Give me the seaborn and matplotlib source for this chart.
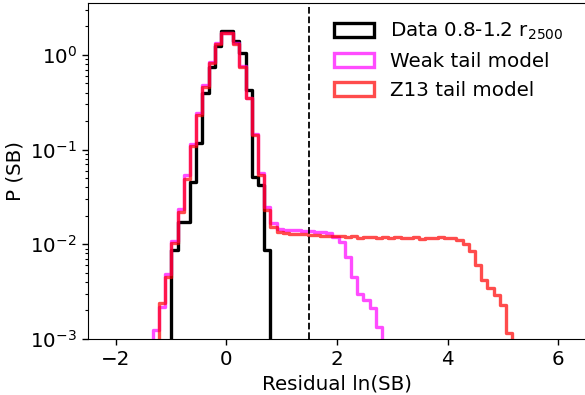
import numpy as np
import pandas as pd
import matplotlib
matplotlib.use("Agg")
import matplotlib.pyplot as plt
import seaborn as sns
from matplotlib.patches import Patch

# ---- data (binned probability values) ----
bin_left = -1.33      # left edge of bin 0
bin_width = 0.112

weak_start = 0        # first bin index of each series
weak_vals = [0.00125, 0.0022, 0.0049, 0.0109, 0.0234, 0.054, 0.115, 0.242, 0.48, 0.85,
             1.33, 1.70, 1.70, 1.33, 0.76, 0.355, 0.145, 0.057, 0.025, 0.0167,
             0.0146, 0.0143, 0.0141, 0.0140, 0.0139, 0.0137, 0.0136, 0.0135, 0.0133, 0.0120,
             0.0107, 0.0074, 0.00455, 0.0030, 0.0026, 0.0021, 0.00135]

z13_start = 1
z13_vals = [0.00238, 0.00455, 0.0104, 0.0221, 0.0486, 0.109, 0.232, 0.463, 0.817, 1.31,
            1.70, 1.70, 1.31, 0.752, 0.349, 0.143, 0.054, 0.023, 0.0153, 0.0136,
            0.0131, 0.0129, 0.0128, 0.0127, 0.0125, 0.0126, 0.0123, 0.0122, 0.0121, 0.0122,
            0.0119, 0.0121, 0.0118, 0.0120, 0.0119, 0.0117, 0.0120, 0.0118, 0.0119, 0.0116,
            0.0118, 0.0119, 0.0115, 0.0118, 0.0117, 0.0119, 0.0118, 0.0117,
            0.0111, 0.0102, 0.0084, 0.0060, 0.00422, 0.00344, 0.00292, 0.00228, 0.00115]

data_start = 3
data_vals = [0.0087, 0.0173, 0.0173, 0.046, 0.117, 0.40, 0.75, 1.25, 1.79, 1.79,
             1.42, 1.04, 0.427, 0.0518, 0.0423, 0.0087]

labels = ["Data 0.8-1.2 r$_{2500}$", "Weak tail model", "Z13 tail model"]
colors = ["black", "magenta", "red"]
alphas = [1.0, 0.7, 0.7]
threshold = 1.5

x_ticks = [-2, 0, 2, 4, 6]
x_lim = (-2.5, 6.5)
y_lim = (1e-3, 3.54)

# ---- plotting ----
sns.set_style("ticks", rc={"axes.edgecolor": "black", "axes.linewidth": 1.0,
                           "xtick.color": "black", "ytick.color": "black",
                           "text.color": "black", "axes.labelcolor": "black"})
plt.rcParams["font.family"] = ["DejaVu Sans"]
FS = 14.3
LW = 2.4

fig = plt.figure(figsize=(5.85, 3.95), dpi=100)
ax = fig.add_axes([0.1504, 0.1418, 0.8513, 0.8506])

n_bins = 60
edges = (bin_left + bin_width * np.arange(-1, n_bins + 1)).tolist()

series = [(data_start, data_vals), (weak_start, weak_vals), (z13_start, z13_vals)]
for (start, vals), col, a in zip(series, colors, alphas):
    idx = start + np.arange(len(vals))
    df = pd.DataFrame({"resid": bin_left + bin_width * (idx + 0.5), "p": vals})
    sns.histplot(data=df, x="resid", weights="p", bins=edges, element="step", fill=False,
                 stat="count", color=col, alpha=a, linewidth=LW, ax=ax)

ax.set_yscale("log")
ax.axvline(threshold, color="black", ls="--", lw=1.3)

ax.set_xlim(*x_lim)
ax.set_ylim(*y_lim)
ax.set_xticks(x_ticks)
ax.set_xlabel("Residual ln(SB)", fontsize=FS)
ax.set_ylabel("P (SB)", fontsize=FS)
ax.tick_params(axis="both", which="major", labelsize=FS, length=4.5, width=1)
ax.tick_params(axis="y", which="minor", length=2.5, width=0.8)

handles = [Patch(facecolor="none", edgecolor=matplotlib.colors.to_rgba(c, a), linewidth=LW)
           for c, a in zip(colors, alphas)]
ax.legend(handles, labels, loc="upper right", bbox_to_anchor=(0.99, 1.0),
          frameon=False, fontsize=FS)

fig.savefig("out.png", dpi=100)
